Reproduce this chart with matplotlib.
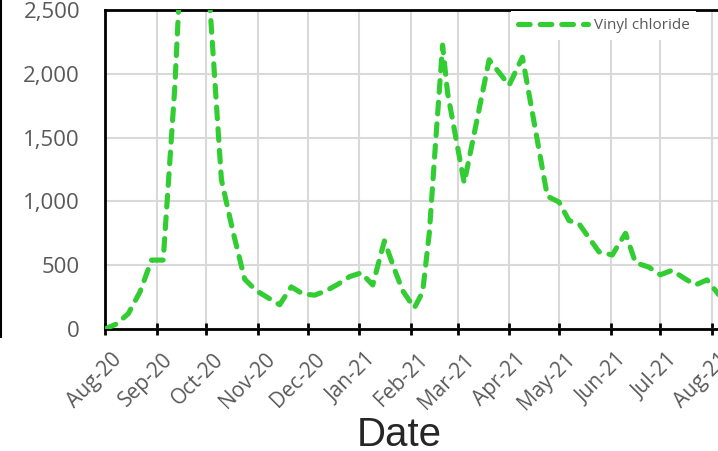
import matplotlib
matplotlib.use("Agg")
import matplotlib.pyplot as plt
import matplotlib.dates as mdates
import matplotlib.transforms as mtransforms
from matplotlib.ticker import FuncFormatter
from matplotlib.lines import Line2D
import datetime as dt

# ---- data ----
dates = ["2020-08-01", "2020-08-08", "2020-08-15", "2020-08-22", "2020-08-29",
         "2020-09-05", "2020-09-12", "2020-09-19", "2020-09-26", "2020-10-03",
         "2020-10-10", "2020-10-17", "2020-10-24", "2020-10-31", "2020-11-07",
         "2020-11-14", "2020-11-21", "2020-11-28", "2020-12-05", "2020-12-12",
         "2020-12-19", "2020-12-26", "2021-01-02", "2021-01-09", "2021-01-16",
         "2021-01-22", "2021-01-27", "2021-02-03", "2021-02-08", "2021-02-12",
         "2021-02-16", "2021-02-20", "2021-02-23", "2021-03-05", "2021-03-20",
         "2021-04-01", "2021-04-09", "2021-04-24", "2021-05-01", "2021-05-07",
         "2021-05-13", "2021-05-25", "2021-06-02", "2021-06-10", "2021-06-16",
         "2021-06-24", "2021-07-01", "2021-07-08", "2021-07-15", "2021-07-22",
         "2021-07-29", "2021-08-05"]
vinyl_chloride = [0, 40, 120, 290, 540,
                  540, 1900, 3800, 3500, 2550,
                  1170, 760, 390, 300, 245,
                  190, 330, 275, 265, 300,
                  350, 410, 440, 345, 690,
                  470, 300, 165, 290, 750,
                  1500, 2225, 1850, 1145, 2110,
                  1910, 2130, 1040, 995, 850,
                  825, 605, 580, 750, 520,
                  485, 425, 460, 400, 345,
                  385, 270]
series_name = "Vinyl chloride"
x_label = "Date"
y_ticks = [0, 500, 1000, 1500, 2000, 2500]
month_ticks = ["2020-08-01", "2020-09-01", "2020-10-01", "2020-11-01", "2020-12-01",
               "2021-01-01", "2021-02-01", "2021-03-01", "2021-04-01", "2021-05-01",
               "2021-06-01", "2021-07-01", "2021-08-01"]

W, H = 718, 451
DPI = 100
fig = plt.figure(figsize=(W / DPI, H / DPI), dpi=DPI)

x = [dt.datetime.strptime(d, "%Y-%m-%d") for d in dates]
xt = [dt.datetime.strptime(d, "%Y-%m-%d") for d in month_ticks]

x0 = dt.datetime(2020, 8, 1)
x1 = dt.datetime(2021, 8, 10)
px_per_day = 1.663
ax_left, ax_top, ax_bottom = 105, 10, 329
ax_w = (x1 - x0).days * px_per_day
ax = fig.add_axes([ax_left / W, (H - ax_bottom) / H, ax_w / W, (ax_bottom - ax_top) / H])

plt.rcParams['lines.scale_dashes'] = False
green = "#32CD32"
line, = ax.plot(x, vinyl_chloride, color=green, lw=3.7, linestyle=(0, (8.4, 7.2)),
                dash_capstyle="round", solid_capstyle="round", label=series_name,
                clip_on=True, zorder=3)

ax.set_xlim(x0, x1)
ax.set_ylim(0, 2500)
ax.set_yticks(y_ticks)
ax.yaxis.set_major_formatter(FuncFormatter(lambda v, p: f"{int(v):,}"))
ax.set_xticks(xt)
ax.xaxis.set_major_formatter(mdates.DateFormatter("%b-%y"))

ax.grid(True, color="#D9D9D9", lw=1.5, zorder=0)
ax.set_axisbelow(True)
for s in ["left", "bottom", "top"]:
    ax.spines[s].set_color("black")
    ax.spines[s].set_linewidth(2)
ax.spines["right"].set_visible(False)

ax.tick_params(axis="y", length=0, pad=18, labelsize=16, labelcolor="#595959")
ax.tick_params(axis="x", direction="inout", length=9, width=2, color="black",
               pad=10, labelsize=15, labelcolor="#595959")
for lab in ax.get_xticklabels():
    lab.set_rotation(45)
    lab.set_ha("right")
    lab.set_va("top")
    lab.set_rotation_mode("anchor")
    lab.set_fontfamily("Open Sans")
    lab.set_transform(lab.get_transform() + mtransforms.ScaledTranslation(6 / DPI, 0, fig.dpi_scale_trans))
for lab in ax.get_yticklabels():
    lab.set_fontfamily("Open Sans")

fig.text(399 / W, (H - 446) / H, x_label, ha="center", va="baseline",
         fontsize=29, color="#262626", family="Liberation Sans")

leg = ax.legend(handles=[line], loc="upper left",
                bbox_to_anchor=(511 / W, (H - 11) / H), bbox_transform=fig.transFigure,
                frameon=True, fancybox=False, framealpha=1, facecolor="white",
                edgecolor="none", borderpad=0.45, borderaxespad=0,
                handlelength=4.6, handletextpad=0.35,
                prop={"family": "Open Sans", "size": 11})
for t in leg.get_texts():
    t.set_color("#595959")

# partial title of the original (cut off at the top of the picture)
fig.text(296 / W, (H + 4) / H, "(b)", ha="center", va="baseline",
         fontsize=20, fontweight="bold", color="#595959", family="Open Sans")

# edge of neighbouring panel on the left
fig.add_artist(Line2D([0.8 / W, 0.8 / W], [1, (H - 337) / H], color="black", lw=1.5,
                      transform=fig.transFigure))

fig.savefig("out.png", dpi=DPI)
